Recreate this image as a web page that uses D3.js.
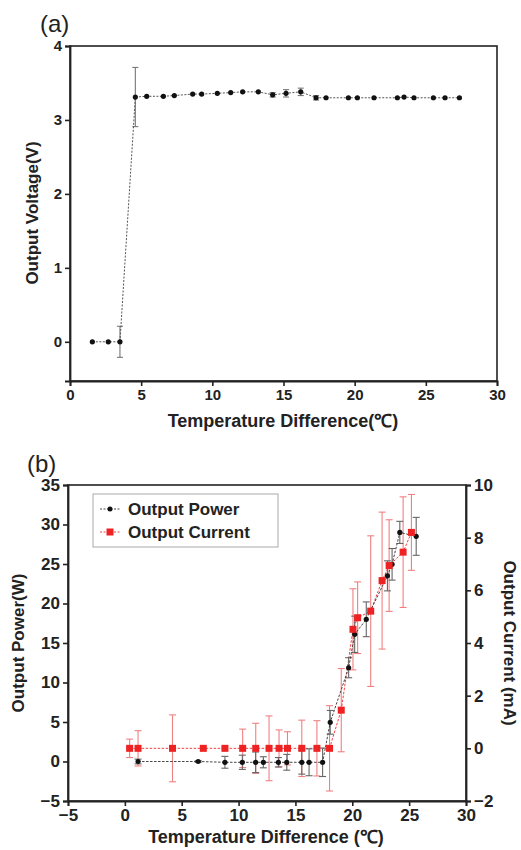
<!DOCTYPE html>
<html><head><meta charset="utf-8">
<script src="https://cdn.jsdelivr.net/npm/d3@7"></script>
<style>body{margin:0;background:#fff}svg{display:block}text{font-family:"Liberation Sans",Arial,sans-serif;fill:#222}</style>
</head><body>
<script>
// ---- Panel (a): Output voltage ----
const aTemp = [1.57,2.69,3.51,4.59,5.39,6.56,7.33,8.62,9.25,10.35,11.29,12.13,13.23,14.24,15.18,16.21,17.29,17.99,19.56,20.19,21.36,23.0,23.47,24.17,25.53,26.35,27.36];
const aVolt = [0,0,0,3.31,3.32,3.32,3.33,3.35,3.35,3.36,3.37,3.38,3.38,3.34,3.36,3.38,3.30,3.30,3.30,3.30,3.30,3.30,3.31,3.30,3.30,3.30,3.30];
const aErr  = [0,0,0.21,0.4,0,0,0,0,0,0,0,0,0,0.03,0.05,0.05,0.03,0,0,0,0,0,0,0,0,0,0];
const aXTicks = [0,5,10,15,20,25,30];
const aYTicks = [0,1,2,3,4];

// ---- Panel (b): Output power & current ----
const pTemp = [1.16,6.45,8.8,10.33,11.5,12.18,13.5,14.24,15.56,16.2,17.39,18.06,19.68,20.21,21.23,23.09,23.5,24.18,25.62];
const pPower = [0,0,-0.1,-0.1,-0.1,-0.1,-0.1,-0.1,-0.1,-0.1,-0.1,4.96,11.87,16.1,18.0,23.5,24.96,29.0,28.5];
const pErr  = [0.3,0.1,0.75,0.9,1.3,0.7,0.6,1.0,1.5,1.7,1.8,1.5,1.27,2.3,2.2,1.9,2.0,1.4,2.4];
const cTemp = [0.42,1.16,4.19,6.9,8.8,10.36,11.51,12.68,13.56,14.3,15.56,16.89,18.0,19.03,20.06,20.47,21.62,22.62,23.24,24.47,25.2];
const cCurr = [0,0,0,0,0,0,0,0,0,0,0,0,0,1.45,4.52,4.96,5.21,6.37,6.94,7.45,8.2];
const cErr  = [0.35,0.67,1.27,0,0,0.73,0.95,1.23,0.7,0.63,1.07,1.05,1.62,1.58,1.54,1.36,2.86,2.6,1.74,2.1,1.44];
const bXTicks = [-5,0,5,10,15,20,25,30];
const bYTicks = [-5,0,5,10,15,20,25,30,35];
const bY2Ticks = [-2,0,2,4,6,8,10];

const svg = d3.select("body").append("svg").attr("width",521).attr("height",850);
const fmt = d3.format("d");

function frame(g,x,y){
  const [x0,x1]=x.range(), [y0,y1]=y.range();
  g.append("rect").attr("x",x0).attr("y",y1).attr("width",x1-x0).attr("height",y0-y1)
   .attr("fill","none").attr("stroke","#222").attr("stroke-width",1.6);
}
function styleAxis(g,size){
  g.selectAll("path").attr("stroke","#222").attr("stroke-width",1.8);
  g.selectAll("line").attr("stroke","#222").attr("stroke-width",1.6);
  g.selectAll("text").attr("font-size",size).attr("font-weight","bold").attr("fill","#222").attr("font-family","Liberation Sans, Arial, sans-serif");
}
function errBars(g,xs,ys,es,x,y,color,cap){
  xs.forEach((t,i)=>{
    if(!es[i]) return;
    const cx=x(t), yt=y(ys[i]+es[i]), yb=y(ys[i]-es[i]);
    g.append("line").attr("x1",cx).attr("x2",cx).attr("y1",yt).attr("y2",yb).attr("stroke",color).attr("stroke-width",1.1);
    [yt,yb].forEach(v=>g.append("line").attr("x1",cx-cap).attr("x2",cx+cap).attr("y1",v).attr("y2",v).attr("stroke",color).attr("stroke-width",1.1));
  });
}

// ---------- Panel (a) ----------
{
  const x=d3.scaleLinear().domain([0,30]).range([70,497]);
  const y=d3.scaleLinear().domain([-0.53,4]).range([381,46]);
  const g=svg.append("g");
  frame(g,x,y);
  const xa=g.append("g").attr("transform","translate(0,381)").call(d3.axisBottom(x).tickValues(aXTicks).tickFormat(fmt).tickSize(5).tickPadding(3));
  styleAxis(xa,15);
  const ya=g.append("g").attr("transform","translate(70,0)").call(d3.axisLeft(y).tickValues(aYTicks).tickFormat(fmt).tickSize(5).tickPadding(3));
  styleAxis(ya,15);
  errBars(g,aTemp,aVolt,aErr,x,y,"#777",3);
  const line=d3.line().x((d,i)=>x(aTemp[i])).y(d=>y(d));
  g.append("path").datum(aVolt).attr("d",line).attr("fill","none").attr("stroke","#555").attr("stroke-width",1).attr("stroke-dasharray","2,1.5");
  g.selectAll("circle.a").data(aVolt).enter().append("circle").attr("cx",(d,i)=>x(aTemp[i])).attr("cy",d=>y(d)).attr("r",2.6).attr("fill","#111");
  g.append("text").attr("x",283).attr("y",427).attr("text-anchor","middle").attr("font-size",18).attr("font-weight","bold").text("Temperature Difference(℃)");
  g.append("text").attr("transform","translate(38,213) rotate(-90)").attr("text-anchor","middle").attr("font-size",17).attr("font-weight","bold").text("Output Voltage(V)");
  g.append("text").attr("x",40).attr("y",32).attr("font-size",24).text("(a)");
}

// ---------- Panel (b) ----------
{
  const x=d3.scaleLinear().domain([-5,30]).range([68,466]);
  const y=d3.scaleLinear().domain([-5,35]).range([801,485]);
  const y2=d3.scaleLinear().domain([-2,10]).range([801,485]);
  const g=svg.append("g");
  frame(g,x,y);
  const xa=g.append("g").attr("transform","translate(0,801)").call(d3.axisBottom(x).tickValues(bXTicks).tickFormat(fmt).tickSize(5).tickPadding(3));
  styleAxis(xa,17);
  const ya=g.append("g").attr("transform","translate(68,0)").call(d3.axisLeft(y).tickValues(bYTicks).tickFormat(fmt).tickSize(5).tickPadding(3));
  styleAxis(ya,17);
  const ya2=g.append("g").attr("transform","translate(466,0)").call(d3.axisRight(y2).tickValues(bY2Ticks).tickFormat(fmt).tickSize(5).tickPadding(3));
  styleAxis(ya2,17);

  // current (red)
  errBars(g,cTemp,cCurr,cErr,x,y2,"#f08080",3.5);
  const lc=d3.line().x((d,i)=>x(cTemp[i])).y(d=>y2(d));
  g.append("path").datum(cCurr).attr("d",lc).attr("fill","none").attr("stroke","#f04040").attr("stroke-width",1).attr("stroke-dasharray","2.5,1.5");
  // power (black)
  errBars(g,pTemp,pPower,pErr,x,y,"#666",3.5);
  const lp=d3.line().x((d,i)=>x(pTemp[i])).y(d=>y(d));
  g.append("path").datum(pPower).attr("d",lp).attr("fill","none").attr("stroke","#444").attr("stroke-width",1).attr("stroke-dasharray","2.5,1.5");
  g.selectAll("circle.p").data(pPower).enter().append("circle").attr("cx",(d,i)=>x(pTemp[i])).attr("cy",d=>y(d)).attr("r",2.6).attr("fill","#111");
  g.selectAll("rect.c").data(cCurr).enter().append("rect").attr("x",(d,i)=>x(cTemp[i])-3.5).attr("y",d=>y2(d)-3.5).attr("width",7).attr("height",7).attr("fill","#ee2222");

  // legend
  const lg=g.append("g");
  lg.append("rect").attr("x",93).attr("y",494).attr("width",185).attr("height",53).attr("fill","#fff").attr("stroke","#aaa").attr("stroke-width",1);
  lg.append("line").attr("x1",100).attr("x2",120).attr("y1",509).attr("y2",509).attr("stroke","#444").attr("stroke-dasharray","2,1.5");
  lg.append("circle").attr("cx",110).attr("cy",509).attr("r",2.5).attr("fill","#111");
  lg.append("text").attr("x",128).attr("y",515).attr("font-size",17).attr("font-weight","bold").text("Output Power");
  lg.append("line").attr("x1",100).attr("x2",120).attr("y1",532).attr("y2",532).attr("stroke","#f04040").attr("stroke-dasharray","2,1.5");
  lg.append("rect").attr("x",106.5).attr("y",528.5).attr("width",7).attr("height",7).attr("fill","#ee2222");
  lg.append("text").attr("x",128).attr("y",538).attr("font-size",17).attr("font-weight","bold").text("Output Current");

  g.append("text").attr("x",266).attr("y",843).attr("text-anchor","middle").attr("font-size",18).attr("font-weight","bold").text("Temperature Difference (℃)");
  g.append("text").attr("transform","translate(24,643) rotate(-90)").attr("text-anchor","middle").attr("font-size",17).attr("font-weight","bold").text("Output Power(W)");
  g.append("text").attr("transform","translate(504,643) rotate(90)").attr("text-anchor","middle").attr("font-size",17).attr("font-weight","bold").text("Output Current (mA)");
  g.append("text").attr("x",27).attr("y",472).attr("font-size",24).text("(b)");
}
</script>
</body></html>
